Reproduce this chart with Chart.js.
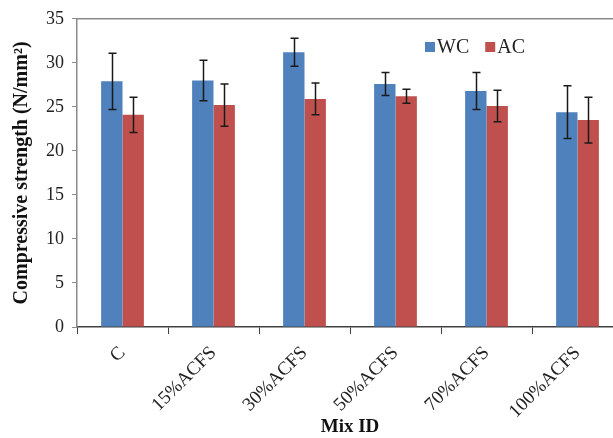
<!DOCTYPE html>
<html>
<head>
<meta charset="utf-8">
<script src="https://cdn.jsdelivr.net/npm/chart.js@4/dist/chart.umd.min.js"></script>
<style>
  html, body { margin: 0; padding: 0; background: #fff; overflow: hidden; width: 613px; height: 438px; }
  #wrap { position: absolute; left: 0; top: 0; width: 640px; height: 438px; }
</style>
</head>
<body>
<div id="wrap"><canvas id="c"></canvas></div>
<script>
const categories = ['C', '15%ACFS', '30%ACFS', '50%ACFS', '70%ACFS', '100%ACFS'];
const seriesNames = ['WC', 'AC'];
const wcValues = [27.9, 28.0, 31.2, 27.6, 26.8, 24.4];
const acValues = [24.1, 25.2, 25.9, 26.2, 25.1, 23.5];
const wcErrors = [3.2, 2.3, 1.6, 1.3, 2.1, 3.0];
const acErrors = [2.0, 2.4, 1.8, 0.8, 1.8, 2.6];
const yTicks = [0, 5, 10, 15, 20, 25, 30, 35];

const SERIF = '"Liberation Serif", "Times New Roman", serif';

const errorBarPlugin = {
  id: 'errorBars',
  afterDatasetsDraw(chart) {
    const ctx = chart.ctx;
    const y = chart.scales.y;
    ctx.save();
    ctx.strokeStyle = '#1a1a1a';
    ctx.lineWidth = 1.5;
    chart.data.datasets.forEach((ds, di) => {
      const meta = chart.getDatasetMeta(di);
      meta.data.forEach((bar, i) => {
        const v = ds.data[i], e = ds.errors[i];
        const x = Math.round(bar.x) + 0.5;
        const yt = y.getPixelForValue(v + e), yb = y.getPixelForValue(v - e);
        ctx.beginPath();
        ctx.moveTo(x, yt); ctx.lineTo(x, yb);
        ctx.moveTo(x - 4, yt); ctx.lineTo(x + 4, yt);
        ctx.moveTo(x - 4, yb); ctx.lineTo(x + 4, yb);
        ctx.stroke();
      });
    });
    ctx.restore();
  }
};

const framePlugin = {
  id: 'frame',
  afterDraw(chart) {
    const ctx = chart.ctx, a = chart.chartArea;
    ctx.save();
    ctx.strokeStyle = '#8a8a8a';
    ctx.lineWidth = 1.5;
    ctx.beginPath();
    ctx.moveTo(a.left, a.top); ctx.lineTo(a.right, a.top);
    ctx.stroke();
    // legend inside plot area
    let x = 425;
    const ly = 47;
    ctx.font = '20px ' + SERIF;
    ctx.textBaseline = 'middle';
    ctx.textAlign = 'left';
    chart.data.datasets.forEach((ds) => {
      ctx.fillStyle = ds.backgroundColor;
      ctx.fillRect(x, ly - 5, 10, 10);
      ctx.fillStyle = '#222';
      ctx.fillText(ds.label, x + 12, ly + 1);
      x += 12 + ctx.measureText(ds.label).width + 16;
    });
    ctx.restore();
  }
};

new Chart(document.getElementById('c'), {
  type: 'bar',
  data: {
    labels: categories,
    datasets: [
      { label: seriesNames[0], data: wcValues, errors: wcErrors, backgroundColor: '#4F81BD' },
      { label: seriesNames[1], data: acValues, errors: acErrors, backgroundColor: '#C0504D' }
    ]
  },
  options: {
    responsive: true,
    maintainAspectRatio: false,
    animation: false,
    devicePixelRatio: 1,
    layout: { padding: { left: 0, right: 17, top: 18, bottom: 0 } },
    datasets: { bar: { barPercentage: 1.0, categoryPercentage: 0.47 } },
    plugins: { legend: { display: false }, tooltip: { enabled: false } },
    scales: {
      x: {
        grid: { offset: true, drawOnChartArea: false, tickLength: 7, color: '#404040', tickColor: '#404040' },
        border: { color: '#404040', width: 1.5 },
        ticks: { color: '#222', font: { family: SERIF, size: 19 }, minRotation: 45, maxRotation: 45, padding: 8, autoSkip: false },
        title: { display: true, text: 'Mix ID', color: '#111', font: { family: SERIF, size: 19, weight: 'bold' }, padding: { top: 0, bottom: 0 } },
        afterFit(scale) { scale.height = 438 - 327; }
      },
      y: {
        min: 0, max: 35,
        afterBuildTicks(scale) { scale.ticks = yTicks.map(v => ({ value: v })); },
        grid: { drawOnChartArea: false, tickLength: 5, color: '#8a8a8a' },
        border: { color: '#8a8a8a', width: 1.5 },
        ticks: { color: '#222', font: { family: SERIF, size: 18 }, padding: 8 },
        title: { display: true, text: 'Compressive strength (N/mm\u00B2)', color: '#111', font: { family: SERIF, size: 20, weight: 'bold' }, padding: { top: 10, bottom: 0 } },
        afterFit(scale) { scale.width = 77; }
      }
    }
  },
  plugins: [errorBarPlugin, framePlugin]
});
</script>
</body>
</html>
